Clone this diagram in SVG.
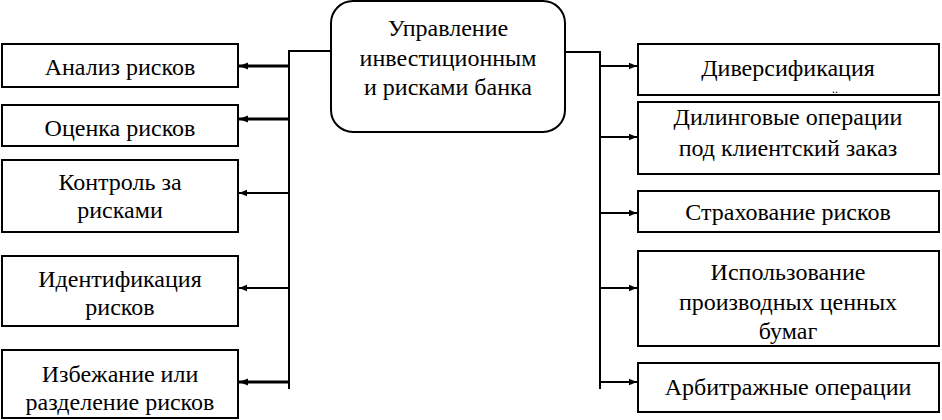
<svg xmlns="http://www.w3.org/2000/svg" width="942" height="420" viewBox="0 0 942 420" xml:lang="ru">
<defs>
<marker id="ah" viewBox="0 0 10 10" refX="10" refY="5" markerWidth="5" markerHeight="4" markerUnits="strokeWidth" orient="auto"><path d="M0,1 L10,5 L0,9 z" fill="#000"/></marker>
<marker id="ah3" viewBox="0 0 10 10" refX="10" refY="5" markerWidth="3.5" markerHeight="3" markerUnits="strokeWidth" orient="auto"><path d="M0,1 L10,5 L0,9 z" fill="#000"/></marker>
</defs>
<rect width="942" height="420" fill="#fff"/>
<g id="connectors" fill="none" stroke="#000" stroke-width="2">
<path d="M330,51 H289 V389"/>
<path stroke-width="3" d="M289,66 H239" marker-end="url(#ah3)"/>
<path stroke-width="3" d="M289,119 H239" marker-end="url(#ah3)"/>
<path d="M289,193 H239" marker-end="url(#ah)"/>
<path d="M289,288 H239" marker-end="url(#ah)"/>
<path stroke-width="3" d="M289,382 H239" marker-end="url(#ah3)"/>
<path d="M565,52 H600 V389"/>
<path d="M600,66 H637" marker-end="url(#ah)"/>
<path d="M600,137 H637" marker-end="url(#ah)"/>
<path d="M600,213 H637" marker-end="url(#ah)"/>
<path d="M600,288 H637" marker-end="url(#ah)"/>
<path d="M600,382 H637" marker-end="url(#ah)"/>
</g>
<g id="root">
<rect x="331" y="1" width="234" height="131" rx="22" fill="#fff" stroke="#000" stroke-width="2"/>
<text x="448" y="36" font-family="Times New Roman" font-size="24" text-anchor="middle">Управление</text>
<text x="448" y="66" font-family="Times New Roman" font-size="24" text-anchor="middle">инвестиционным</text>
<text x="448" y="95" font-family="Times New Roman" font-size="24" text-anchor="middle">и рисками банка</text>
</g>
<g id="n1"><rect x="2" y="44" width="236" height="43" fill="#fff" stroke="#000" stroke-width="2"/><text x="120" y="75" font-family="Times New Roman" font-size="24" text-anchor="middle">Анализ рисков</text></g>
<g id="n2"><rect x="2" y="105" width="236" height="41" fill="#fff" stroke="#000" stroke-width="2"/><text x="120" y="136" font-family="Times New Roman" font-size="24" text-anchor="middle">Оценка рисков</text></g>
<g id="n3"><rect x="2" y="160" width="236" height="72" fill="#fff" stroke="#000" stroke-width="2"/><text x="120" y="190" font-family="Times New Roman" font-size="24" text-anchor="middle">Контроль за</text><text x="120" y="218" font-family="Times New Roman" font-size="24" text-anchor="middle">рисками</text></g>
<g id="n4"><rect x="2" y="256" width="236" height="70" fill="#fff" stroke="#000" stroke-width="2"/><text x="120" y="287" font-family="Times New Roman" font-size="24" text-anchor="middle">Идентификация</text><text x="120" y="315" font-family="Times New Roman" font-size="24" text-anchor="middle">рисков</text></g>
<g id="n5"><rect x="2" y="350" width="236" height="68" fill="#fff" stroke="#000" stroke-width="2"/><text x="120" y="382" font-family="Times New Roman" font-size="24" text-anchor="middle">Избежание или</text><text x="120" y="410" font-family="Times New Roman" font-size="24" text-anchor="middle">разделение рисков</text></g>
<g id="m1"><rect x="638" y="44" width="301" height="51" fill="#fff" stroke="#000" stroke-width="2"/><text x="788" y="76" font-family="Times New Roman" font-size="24" text-anchor="middle">Диверсификация</text><text x="835" y="93" font-family="Times New Roman" font-size="12" text-anchor="middle">..</text></g>
<g id="m2"><rect x="638" y="102" width="301" height="72" fill="#fff" stroke="#000" stroke-width="2"/><text x="788" y="125" font-family="Times New Roman" font-size="24" text-anchor="middle">Дилинговые операции</text><text x="788" y="156" font-family="Times New Roman" font-size="24" text-anchor="middle">под клиентский заказ</text></g>
<g id="m3"><rect x="638" y="191" width="301" height="41" fill="#fff" stroke="#000" stroke-width="2"/><text x="788" y="220" font-family="Times New Roman" font-size="24" text-anchor="middle">Страхование рисков</text></g>
<g id="m4"><rect x="638" y="251" width="301" height="95" fill="#fff" stroke="#000" stroke-width="2"/><text x="788" y="280" font-family="Times New Roman" font-size="24" text-anchor="middle">Использование</text><text x="788" y="310" font-family="Times New Roman" font-size="24" text-anchor="middle">производных ценных</text><text x="788" y="339" font-family="Times New Roman" font-size="24" text-anchor="middle">бумаг</text></g>
<g id="m5"><rect x="638" y="363" width="301" height="49" fill="#fff" stroke="#000" stroke-width="2"/><text x="788" y="395" font-family="Times New Roman" font-size="24" text-anchor="middle">Арбитражные операции</text></g>
</svg>
